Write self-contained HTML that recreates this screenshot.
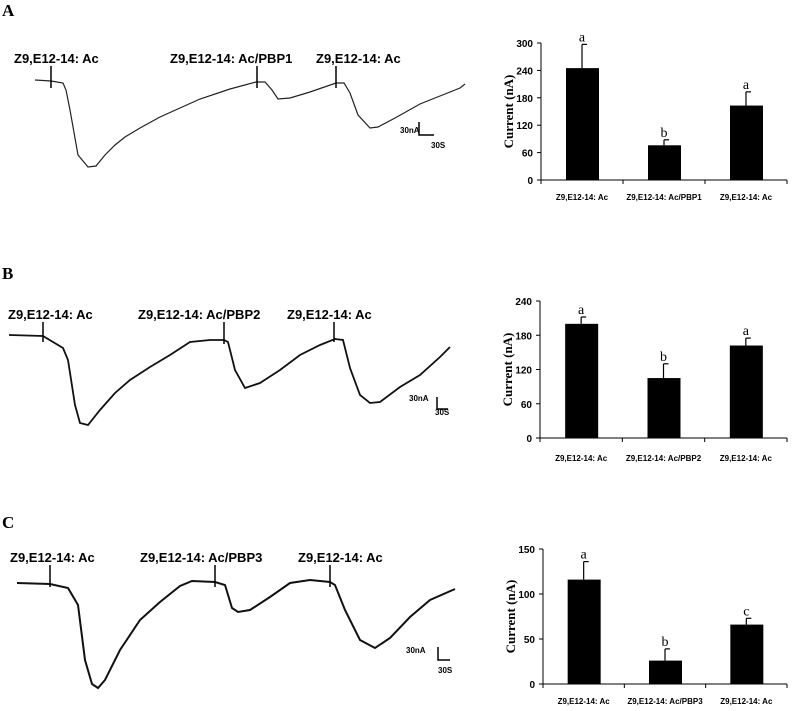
<!DOCTYPE html>
<html><head><meta charset="utf-8">
<style>
body{margin:0;background:#fff;width:796px;height:711px;overflow:hidden}
svg{display:block}
.tr{font-family:"Liberation Sans",sans-serif;font-weight:bold;font-size:13px}
.tk{font-family:"Liberation Sans",sans-serif;font-weight:bold;font-size:10px}
.xl{font-family:"Liberation Sans",sans-serif;font-weight:bold;font-size:8px}
.sr{font-family:"Liberation Serif",serif}
</style></head><body>
<svg id="fig" width="796" height="711">
<text x="2" y="16" class="sr" font-weight="bold" font-size="17">A</text>
<text x="2" y="279" class="sr" font-weight="bold" font-size="17">B</text>
<text x="2" y="528" class="sr" font-weight="bold" font-size="17">C</text>

<g>
<polyline fill="none" stroke="#222" stroke-width="1.2" points="35,80 51,81 63,83 66,90 70,110 78,155 88,167 96,166 105,155 115,145 125,137 140,128 160,117 180,108 200,99 230,89 256,82 265,82 272,90 278,99 290,98 310,92 336,83 344,83 350,93 358,115 370,128 378,127 395,118 420,104 440,96 460,88 465,84"/>
<line x1="51" y1="66" x2="51" y2="88" stroke="#000" stroke-width="1.5"/>
<line x1="257" y1="66" x2="257" y2="88" stroke="#000" stroke-width="1.5"/>
<line x1="336" y1="66" x2="336" y2="88" stroke="#000" stroke-width="1.5"/>
<text x="14" y="63" class="tr">Z9,E12-14: Ac</text>
<text x="170" y="63" class="tr">Z9,E12-14: Ac/PBP1</text>
<text x="316" y="63" class="tr">Z9,E12-14: Ac</text>
<polyline points="419,122 419,135 434,135" fill="none" stroke="#000" stroke-width="1.5"/>
<text x="400" y="133" class="xl">30nA</text>
<text x="431" y="148" class="xl">30S</text>
</g>

<g>
<polyline fill="none" stroke="#111" stroke-width="1.8" points="9,335 43,336 63,348 68,360 75,405 80,423 88,425 100,410 115,393 130,380 150,367 170,355 190,342 210,340 224,340 228,342 235,370 245,388 260,383 280,370 300,355 320,345 335,339 343,340 350,368 360,395 370,403 380,402 400,387 420,375 440,357 450,347"/>
<line x1="43" y1="322" x2="43" y2="342" stroke="#000" stroke-width="1.5"/>
<line x1="224" y1="322" x2="224" y2="344" stroke="#000" stroke-width="1.5"/>
<line x1="334" y1="322" x2="334" y2="342" stroke="#000" stroke-width="1.5"/>
<text x="8" y="319" class="tr">Z9,E12-14: Ac</text>
<text x="138" y="319" class="tr">Z9,E12-14: Ac/PBP2</text>
<text x="287" y="319" class="tr">Z9,E12-14: Ac</text>
<polyline points="437,397 437,409 448,409" fill="none" stroke="#000" stroke-width="1.5"/>
<text x="409" y="401" class="xl">30nA</text>
<text x="435" y="415" class="xl">30S</text>
</g>

<g>
<polyline fill="none" stroke="#111" stroke-width="2" points="17,583 50,584 68,588 78,605 85,660 92,684 98,688 105,680 120,650 140,620 160,602 180,586 192,581 215,582 225,585 232,608 238,612 250,610 270,597 290,583 310,580 330,582 335,585 345,610 360,640 375,648 390,638 410,617 430,600 455,589"/>
<line x1="50" y1="565" x2="50" y2="587" stroke="#000" stroke-width="1.5"/>
<line x1="215" y1="565" x2="215" y2="587" stroke="#000" stroke-width="1.5"/>
<line x1="330" y1="565" x2="330" y2="587" stroke="#000" stroke-width="1.5"/>
<text x="10" y="562" class="tr">Z9,E12-14: Ac</text>
<text x="140" y="562" class="tr">Z9,E12-14: Ac/PBP3</text>
<text x="298" y="562" class="tr">Z9,E12-14: Ac</text>
<polyline points="438,647 438,660 450,660" fill="none" stroke="#000" stroke-width="1.5"/>
<text x="406" y="653" class="xl">30nA</text>
<text x="438" y="673" class="xl">30S</text>
</g>
<g id="charts"></g>
</svg>
<script>
const catsA = ["Z9,E12-14: Ac","Z9,E12-14: Ac/PBP1","Z9,E12-14: Ac"];
const valsA = [245, 76, 163];
const errsA = [52, 12, 30];
const letA = ["a","b","a"];
const ticksA = [0,60,120,180,240,300];
const catsB = ["Z9,E12-14: Ac","Z9,E12-14: Ac/PBP2","Z9,E12-14: Ac"];
const valsB = [200, 105, 162];
const errsB = [12, 25, 13];
const letB = ["a","b","a"];
const ticksB = [0,60,120,180,240];
const catsC = ["Z9,E12-14: Ac","Z9,E12-14: Ac/PBP3","Z9,E12-14: Ac"];
const valsC = [116, 26, 66];
const errsC = [20, 13, 7];
const letC = ["a","b","c"];
const ticksC = [0,50,100,150];

const NS="http://www.w3.org/2000/svg";
const root=document.getElementById('charts');
function mk(tag,attrs,parent,text){const e=document.createElementNS(NS,tag);for(const k in attrs)e.setAttribute(k,attrs[k]);if(text!==undefined)e.textContent=text;parent.appendChild(e);return e;}

function chart(id,cats,vals,errs,lets,ticks,ax,y0,y1,xEnd,labelY){
  const g=mk('g',{},root);
  
  
  const max=ticks[ticks.length-1];
  const ys=v=>y0-(v/max)*(y0-y1);
  const bw=(xEnd-ax)/cats.length;
  const xs=i=>ax+bw*i+bw/2;
  mk('line',{x1:ax,y1:y1,x2:ax,y2:y0,stroke:'#000','stroke-width':1},g);
  mk('line',{x1:ax,y1:y0,x2:xEnd,y2:y0,stroke:'#000','stroke-width':1},g);
  ticks.forEach(t=>{
    mk('line',{x1:ax-4,y1:ys(t),x2:ax,y2:ys(t),stroke:'#000'},g);
    const tl=mk('text',{x:ax-8,y:ys(t)+4,'text-anchor':'end',class:'tk'},g,t);
    
    
  });
  for(let i=0;i<=cats.length;i++) mk('line',{x1:ax+bw*i,y1:y0,x2:ax+bw*i,y2:y0+4,stroke:'#000'},g);
  cats.forEach((c,i)=>{
    const cx=xs(i);
    const r=mk('rect',{x:cx-16,y:ys(vals[i]),width:33,height:y0-ys(vals[i]),fill:'#000'},g);
    
    
    const et=ys(vals[i]+errs[i]);
    mk('line',{x1:cx,y1:ys(vals[i]),x2:cx,y2:et,stroke:'#000','stroke-width':1.2},g);
    mk('line',{x1:cx,y1:et,x2:cx+5,y2:et,stroke:'#000','stroke-width':1.2},g);
    const lt=mk('text',{x:cx,y:et-3,'text-anchor':'middle',class:'sr','font-size':'14'},g,lets[i]);
    
    
    const xl=mk('text',{x:cx,y:labelY,'text-anchor':'middle',class:'xl'},g,c);
    
    
  });
  const yt=mk('text',{x:0,y:0,'text-anchor':'middle',class:'sr','font-weight':'bold','font-size':'13',transform:`translate(${ax-28},${(y0+y1)/2}) rotate(-90)`},g,'Current (nA)');
  
  
}
chart('a',catsA,valsA,errsA,letA,ticksA,541,180,43,787,200);
chart('b',catsB,valsB,errsB,letB,ticksB,540,438,301,787,461);
chart('c',catsC,valsC,errsC,letC,ticksC,543,684,549,787,704);
</script>
</body></html>
